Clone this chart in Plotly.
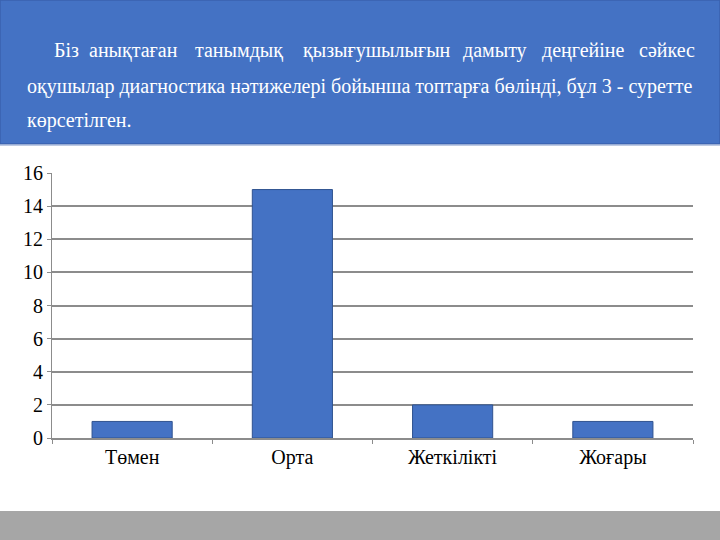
import plotly.graph_objects as go

categories = ["Төмен", "Орта", "Жеткілікті", "Жоғары"]
values = [1, 15, 2, 1]
y_ticks = [0, 2, 4, 6, 8, 10, 12, 14, 16]

line1_words = ["Біз", "анықтаған", "танымдық", "қызығушылығын", "дамыту", "деңгейіне", "сәйкес"]
line1_left_px = [52, 87, 193, 301, 461, 540, 637]
line2_text = "оқушылар диагностика нәтижелері бойынша топтарға бөлінді, бұл 3 - суретте"
line3_text = "көрсетілген."

W, H = 720, 540
ML, MR, MT, MB = 52, 27, 173, 102
PW = W - ML - MR
PH = H - MT - MB

def px_x(x):
    return (x - ML) / PW

def px_y(y):
    return (H - MB - y) / PH

BLUE = "#4472C4"
SERIF = "Liberation Serif"
HSIZE = 20

fig = go.Figure()
fig.add_trace(go.Bar(
    x=categories, y=values,
    marker=dict(color=BLUE, line=dict(color="#2F528F", width=1)),
    width=0.5,
))

shapes = [
    dict(type="rect", xref="paper", yref="paper",
         x0=px_x(0), x1=px_x(720), y0=px_y(144), y1=px_y(0),
         fillcolor=BLUE, line=dict(color="#3A62AE", width=1.5), layer="below"),
    dict(type="line", xref="paper", yref="paper",
         x0=px_x(0), x1=px_x(720), y0=px_y(145), y1=px_y(145),
         line=dict(color="#A9B9DA", width=1.5)),
    dict(type="rect", xref="paper", yref="paper",
         x0=px_x(0), x1=px_x(720), y0=px_y(540), y1=px_y(511),
         fillcolor="#A6A6A6", line=dict(width=0), layer="below"),
]

annotations = []
for w, xl in zip(line1_words, line1_left_px):
    annotations.append(dict(text=w, xref="paper", yref="paper", x=px_x(xl), y=px_y(50),
                            xanchor="left", yanchor="middle", showarrow=False,
                            font=dict(family=SERIF, size=HSIZE, color="white")))
annotations.append(dict(text=line2_text, xref="paper", yref="paper", x=px_x(25), y=px_y(86),
                        xanchor="left", yanchor="middle", showarrow=False,
                        font=dict(family=SERIF, size=HSIZE, color="white")))
annotations.append(dict(text=line3_text, xref="paper", yref="paper", x=px_x(25), y=px_y(120),
                        xanchor="left", yanchor="middle", showarrow=False,
                        font=dict(family=SERIF, size=HSIZE, color="white")))

fig.update_layout(
    width=W, height=H,
    margin=dict(l=ML, r=MR, t=MT, b=MB),
    paper_bgcolor="white", plot_bgcolor="white",
    showlegend=False,
    shapes=shapes,
    annotations=annotations,
    bargap=0.5,
    font=dict(family=SERIF),
)
fig.update_yaxes(
    range=[0, 16], tickvals=y_ticks, ticktext=[str(v) for v in y_ticks],
    showgrid=True, gridcolor="#8C8C8C", gridwidth=1.5,
    zeroline=False,
    showline=True, linecolor="#8C8C8C", linewidth=1,
    ticks="outside", ticklen=4, tickcolor="#8C8C8C",
    tickfont=dict(family=SERIF, size=20, color="black"),
    fixedrange=True,
)
fig.update_xaxes(
    showline=True, linecolor="#8C8C8C", linewidth=1.5,
    ticks="outside", tickson="boundaries", ticklen=4, tickcolor="#8C8C8C",
    tickfont=dict(family=SERIF, size=20, color="black"),
    showgrid=False,
)

fig.write_html("out.html")
